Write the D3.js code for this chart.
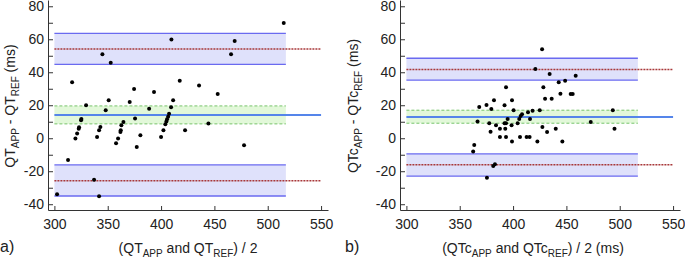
<html>
<head>
  <meta charset="utf-8" />
  <script src="https://cdnjs.cloudflare.com/ajax/libs/d3/7.8.5/d3.min.js"></script>
  <style>
    body { margin: 0; background: #fff; }
    svg { font-family: "Liberation Sans", Arial, sans-serif; }
  </style>
</head>
<body>
  <svg width="685" height="260"></svg>
<script>
// panel a) QT
var qtMean = [409.7,345,352.8,316.6,374.7,417.5,393.4,350.9,370.6,411.3,329.7,348.1,388.8,409.4,375.6,325.3,325.0,323.1,322.8,321.3,
  319.7,343.1,341.9,340.0,364.7,362.8,362.2,361.9,359.7,357.8,380.6,377.2,407.5,406.6,405.6,405.0,404.0,402.2,400.0,422.5,
  312.8,337.2,302.5,341.9,515,469,465.6,435.6,453.1,444.4,477.8];
var qtDiff = [59.8,50.9,45.8,33.9,29.9,34.9,28.1,23.0,22.0,23.0,20.0,17.0,17.9,18.8,11.9,11.7,10.9,6.7,5.8,2.8,
  -0.2,6.8,4.8,0.8,9.9,7.9,4.8,3.8,-0.2,-3.0,1.8,-5.3,14.9,13.1,11.5,10.1,8.5,4.8,0.8,4.8,
  -13.2,-25.1,-34.0,-35.2,69.9,59,50.9,31.9,26.8,8.9,-4.2];
// bias, lower LoA, upper LoA: [value, ciLow, ciHigh]
var qtStats = [[14.1, 8.7, 19.6], [-25.7, -35.0, -16.2], [54.1, 44.8, 63.6]];

// panel b) QTc
var qtcMean = [420.9,393.4,368.3,375.1,382.1,379.6,392.0,399.0,400.5,366.7,377.7,384.0,378.9,387.7,392.7,392.0,393.4,394.9,398.6,387.7,
  393.4,399.0,404.3,405.8,407.1,408.4,414.0,418.3,415.9,406.5,412.7,415.5,422.8,363.6,362.6,383.0,381.4,375.5,425.0,427.2,
  434.3,458.7,442.8,448.8,428.4,444.4,430.0,436.2,454.0,455.9,493.5,472.8,427.5,431.9,440.0,495.1,446.2];
var qtcDiff = [42.0,30.9,19.0,20.2,23.0,17.8,20.0,23.0,17.0,10.1,9.1,7.9,4.0,5.8,5.8,9.1,9.1,11.7,7.9,0.8,
  0.8,-2.0,9.1,11.7,13.5,14.5,15.7,16.7,11.7,0.8,0.8,0.8,-2.0,-4.1,-8.1,-15.8,-16.8,-23.9,17.0,53.9,
  39.0,37.9,33.9,34.9,30.9,27.0,24.0,24.0,26.8,26.8,17.0,9.9,6.8,3.8,5.8,5.8,-2.0];
var qtcStats = [[12.9, 9.1, 17.0], [-16.0, -23.0, -9.5], [41.6, 35.2, 48.5]];

var xTicks = [300, 350, 400, 450, 500, 550];
var yTicks = [-40, -30, -20, -10, 0, 10, 20, 30, 40, 50, 60, 70, 80];
var bandStart = 300, bandEnd = 517, lineEnd = 550;

var svg = d3.select("svg");

function drawPanel(opt) {
  var x = d3.scaleLinear().domain([294, 556.5]).range([opt.left, opt.left + 280]);
  var y = d3.scaleLinear().domain([-43.5, 83.8]).range([210, 0]);
  var g = svg.append("g");

  // confidence bands
  opt.stats.forEach(function (s, i) {
    g.append("rect")
      .attr("x", x(bandStart)).attr("width", x(bandEnd) - x(bandStart))
      .attr("y", y(s[2])).attr("height", y(s[1]) - y(s[2]))
      .attr("fill", i == 0 ? "#e2f8d9" : "#dfe1fb");
    [s[1], s[2]].forEach(function (v) {
      g.append("line")
        .attr("x1", x(bandStart)).attr("x2", x(bandEnd))
        .attr("y1", y(v)).attr("y2", y(v))
        .attr("stroke", i == 0 ? "#78c46c" : "#6a6af0")
        .attr("stroke-width", i == 0 ? 1 : 1.3)
        .attr("stroke-dasharray", i == 0 ? "3,2" : null);
    });
  });
  // bias and limits of agreement
  opt.stats.forEach(function (s, i) {
    g.append("line")
      .attr("x1", x(bandStart)).attr("x2", x(lineEnd))
      .attr("y1", y(s[0])).attr("y2", y(s[0]))
      .attr("stroke", i == 0 ? "#5585ea" : "#a8383a")
      .attr("stroke-width", i == 0 ? 2 : 1.5)
      .attr("stroke-dasharray", i == 0 ? null : "2,1");
  });

  // axes
  var xAxis = d3.axisBottom(x).tickValues(xTicks).tickSizeInner(-4).tickSizeOuter(0).tickPadding(9);
  var yAxis = d3.axisLeft(y).tickValues(yTicks).tickSizeInner(-5).tickSizeOuter(0).tickPadding(4)
    .tickFormat(function (d) { return d % 20 == 0 ? d : ""; });
  g.append("g").attr("transform", "translate(0,210)").call(xAxis);
  g.append("g").attr("transform", "translate(" + opt.left + ",0)").call(yAxis);
  g.selectAll(".tick text").attr("font-size", 14).attr("fill", "#222")
    .attr("font-family", "Liberation Sans, Arial, sans-serif");
  g.selectAll(".domain, .tick line").attr("stroke", "#333");

  // points
  g.selectAll("circle").data(opt.xs).enter()
    .append("circle")
      .attr("r", 2)
      .attr("cx", function (d) { return x(d); })
      .attr("cy", function (d, i) { return y(opt.ys[i]); })
      .attr("fill", "#000");

  // y label
  var yl = g.append("text")
    .attr("transform", "translate(" + opt.ylabX + ",106) rotate(-90)")
    .attr("text-anchor", "middle").attr("font-size", 14).attr("fill", "#222");
  addSubText(yl, [[opt.q, 0], ["APP", 1], [" - " + opt.q, 0], ["REF", 1], [" (ms)", 0]]);

  // x label
  var xl = g.append("text")
    .attr("x", opt.xlabX).attr("y", 253)
    .attr("text-anchor", "middle").attr("font-size", 14).attr("fill", "#222");
  addSubText(xl, [["(" + opt.q, 0], ["APP", 1], [" and " + opt.q, 0], ["REF", 1], [") / 2" + opt.unit, 0]]);

  g.append("text").attr("x", opt.left - 48 + opt.tagX).attr("y", 252)
    .attr("font-size", 16).attr("fill", "#222").text(opt.tag);
}

function addSubText(t, parts) {
  var shifted = false;
  parts.forEach(function (p) {
    var s = t.append("tspan").text(p[0]);
    if (p[1] && !shifted) { s.attr("dy", 4).attr("font-size", 10); shifted = true; }
    else if (!p[1] && shifted) { s.attr("dy", -4); shifted = false; }
  });
}

drawPanel({left: 48, xs: qtMean, ys: qtDiff, stats: qtStats, q: "QT", unit: "",
  ylabX: 15, xlabX: 188, tag: "a)", tagX: 0});
drawPanel({left: 400, xs: qtcMean, ys: qtcDiff, stats: qtcStats, q: "QTc", unit: " (ms)",
  ylabX: 358, xlabX: 533, tag: "b)", tagX: -7});
</script>
</body>
</html>
